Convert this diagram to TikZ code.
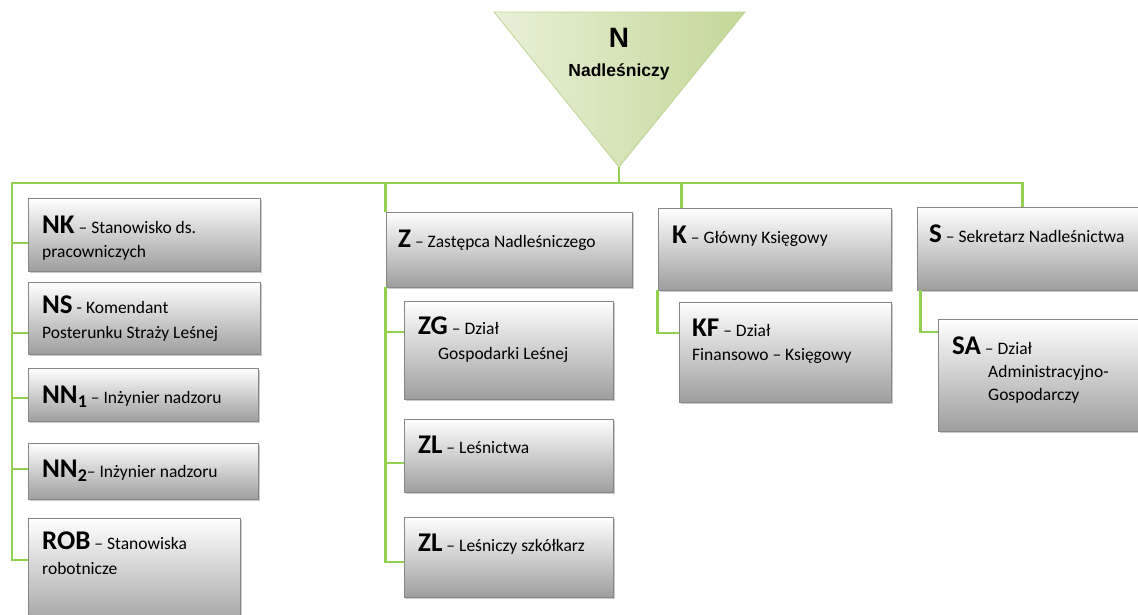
\documentclass[tikz,border=0pt]{standalone}
\usepackage{fontspec}
\setmainfont{Carlito}
\newfontfamily\arialfont{Liberation Sans}
\usetikzlibrary{shadows,calc}
\definecolor{conngreen}{RGB}{146,208,80}
\definecolor{boxborder}{RGB}{135,135,135}
\definecolor{boxbottom}{RGB}{158,158,158}
\definecolor{tripale}{RGB}{232,240,216}
\definecolor{trimid}{RGB}{236,243,225}
\definecolor{trigreen}{RGB}{196,216,152}
\definecolor{triedge}{RGB}{190,212,150}
\newcommand\Kod[1]{{\fontsize{27}{27}\selectfont\bfseries #1}}
\newcommand\Opis{\fontsize{17.5}{20}\selectfont}
\begin{document}
\begin{tikzpicture}[x=1pt,y=-1pt,
  conn/.style={draw=conngreen, line width=2.6pt, line join=miter},
  box/.style={rectangle, draw=boxborder, line width=0.8pt, top color=white, bottom color=boxbottom,
    inner sep=0pt, drop shadow={shadow xshift=2pt, shadow yshift=-2pt, opacity=0.35, fill=black!60}},
  txt/.style={anchor=base west, inner sep=0pt, font=\Opis},
  ttl/.style={anchor=base, inner sep=0pt}]
\useasboundingbox (0,0) rectangle (1138,614);
\clip (0,0) rectangle (1138,614);

% triangle (Nadleśniczy)
\coordinate (ta) at (494,12);
\coordinate (tb) at (745,12);
\coordinate (apex) at (619,167);
\path[draw=triedge, line width=0.8pt, left color=tripale, middle color=trimid, right color=trigreen]
  (ta) -- (tb) -- (apex) -- cycle;
\node[ttl, font=\arialfont\bfseries\fontsize{28}{28}\selectfont] (ntitle) at (619,47) {N};
\node[ttl, font=\arialfont\bfseries\fontsize{17.5}{20}\selectfont] (nname) at (619,76) {Nadleśniczy};

% boxes
\node[box, minimum width=232pt, minimum height=73pt] (nk) at (144,234.5) {};
\node[box, minimum width=232pt, minimum height=72pt] (ns) at (144,318) {};
\node[box, minimum width=230pt, minimum height=53pt] (nn1) at (143,394.5) {};
\node[box, minimum width=230pt, minimum height=56pt] (nn2) at (143,471) {};
\node[box, minimum width=212pt, minimum height=112pt] (rob) at (134,574) {};
\node[box, minimum width=246pt, minimum height=75pt] (z) at (509,249.5) {};
\node[box, minimum width=209pt, minimum height=98pt] (zg) at (508.5,350) {};
\node[box, minimum width=209pt, minimum height=73pt] (zl1) at (508.5,455.5) {};
\node[box, minimum width=209pt, minimum height=80pt] (zl2) at (508.5,557) {};
\node[box, minimum width=233pt, minimum height=82pt] (k) at (774.5,249) {};
\node[box, minimum width=212pt, minimum height=100pt] (kf) at (785,352) {};
\node[box, minimum width=226pt, minimum height=83pt] (s) at (1030,248.5) {};
\node[box, minimum width=206pt, minimum height=112pt] (sa) at (1041,375) {};

% connectors
\coordinate (busL) at (12,183);
\draw[conn] ([xshift=106pt]s.north west) |- (busL) |- ([yshift=14pt]rob.west);
\draw[conn] (apex) -- (apex |- busL);
\draw[conn] ([yshift=-8.5pt]nk.west -| busL) -- ([yshift=-8.5pt]nk.west);
\draw[conn] ([yshift=-15pt]ns.west -| busL) -- ([yshift=-15pt]ns.west);
\draw[conn] ([yshift=-3.5pt]nn1.west -| busL) -- ([yshift=-3.5pt]nn1.west);
\draw[conn] ([yshift=2pt]nn2.west -| busL) -- ([yshift=2pt]nn2.west);
\draw[conn] (z.north west |- busL) -- (z.north west);
\draw[conn] (z.south west) |- ([yshift=-5pt]zl2.west);
\draw[conn] ([yshift=18pt]zg.west -| z.south west) -- ([yshift=18pt]zg.west);
\draw[conn] ([yshift=-7.5pt]zl1.west -| z.south west) -- ([yshift=-7.5pt]zl1.west);
\draw[conn] ([xshift=24pt]k.north west |- busL) -- ([xshift=24pt]k.north west);
\draw[conn] (k.south west) |- ([yshift=19pt]kf.west);
\draw[conn] ([xshift=4pt]s.south west) |- ([yshift=43pt]sa.west);

% texts
\node[txt] (nkA) at (42,233) {\Kod{NK} – Stanowisko ds.};
\node[txt] (nkB) at (42,257) {pracowniczych};
\node[txt] (nsA) at (42,313) {\Kod{NS} - Komendant};
\node[txt] (nsB) at (42,338) {Posterunku Straży Leśnej};
\node[txt] (nn1A) at (42,403) {\Kod{NN\raisebox{-4pt}{\fontsize{18}{18}\selectfont 1}} – Inżynier nadzoru};
\node[txt] (nn2A) at (42,477) {\Kod{NN\raisebox{-4pt}{\fontsize{18}{18}\selectfont 2}}– Inżynier nadzoru};
\node[txt] (robA) at (42,549) {\Kod{ROB} – Stanowiska};
\node[txt] (robB) at (42,574) {robotnicze};
\node[txt] (zA) at (398,247) {\Kod{Z} – Zastępca Nadleśniczego};
\node[txt] (zgA) at (418,334) {\Kod{ZG} – Dział};
\node[txt] (zgB) at (438,359) {Gospodarki Leśnej};
\node[txt] (zl1A) at (418,453) {\Kod{ZL} – Leśnictwa};
\node[txt] (zl2A) at (418,551) {\Kod{ZL} – Leśniczy szkółkarz};
\node[txt] (kA) at (672,243) {\Kod{K} – Główny Księgowy};
\node[txt] (kfA) at (692,336) {\Kod{KF} – Dział};
\node[txt] (kfB) at (692,360) {Finansowo – Księgowy};
\node[txt] (sA) at (929,242) {\Kod{S} – Sekretarz Nadleśnictwa};
\node[txt] (saA) at (952,354) {\Kod{SA} – Dział};
\node[txt] (saB) at (988,377) {Administracyjno-};
\node[txt] (saC) at (988,400) {Gospodarczy};
\end{tikzpicture}
\end{document}
